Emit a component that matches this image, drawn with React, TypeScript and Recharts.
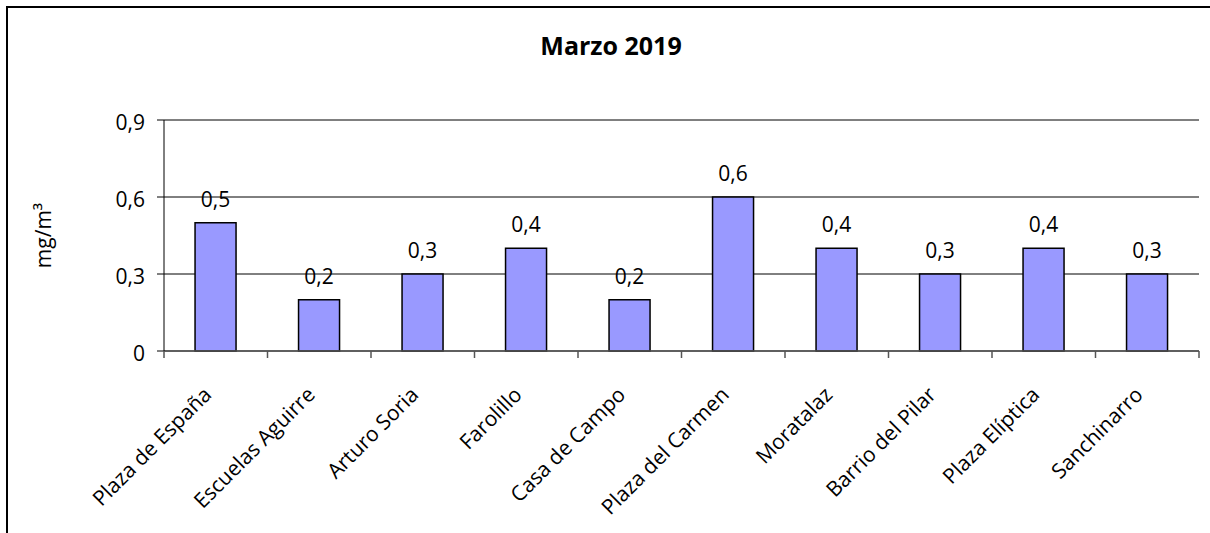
import React from 'react'
import { BarChart, Bar, XAxis, YAxis, CartesianGrid, LabelList } from 'recharts'

const stations = [
  'Plaza de España',
  'Escuelas Aguirre',
  'Arturo Soria',
  'Farolillo',
  'Casa de Campo',
  'Plaza del Carmen',
  'Moratalaz',
  'Barrio del Pilar',
  'Plaza Elíptica',
  'Sanchinarro',
]
const values = [0.5, 0.2, 0.3, 0.4, 0.2, 0.6, 0.4, 0.3, 0.4, 0.3]
const yTicks = [0, 0.3, 0.6, 0.9]
const title = 'Marzo 2019'
const yLabel = 'mg/m³'

const FONT = '"Open Sans", "Noto Sans", sans-serif'
const FS = 21

const comma = (v: any) => String(v).replace('.', ',')

// category tick: Excel style, tick marks sit between bars, label rotated -45
const CatTick = (props: any) => {
  const { x, y, payload, index, visibleTicksCount } = props
  const half = payload?.offset ?? 51.75
  const tx = x - 3
  const ty = y + 45
  return (
    <g>
      <line x1={x - half} y1={y} x2={x - half} y2={y + 7} stroke="#555" strokeWidth={1.5} />
      {index === visibleTicksCount - 1 && (
        <line x1={x + half} y1={y} x2={x + half} y2={y + 7} stroke="#555" strokeWidth={1.5} />
      )}
      <text
        x={tx}
        y={ty}
        transform={`rotate(-45, ${tx}, ${ty})`}
        textAnchor="end"
        fontSize={FS}
        fontFamily={FONT}
        fill="#000"
      >
        {payload.value}
      </text>
    </g>
  )
}

export default function App() {
  const data = stations.map((name, i) => ({ name, value: values[i] }))

  return (
    <div style={{ position: 'fixed', left: 0, top: 0, width: 1210, height: 533, overflow: 'hidden', background: '#fff' }}>
      <div
        style={{
          position: 'absolute',
          left: 6,
          top: 6,
          width: 1300,
          height: 600,
          borderTop: '2px solid #000',
          borderLeft: '2px solid #000',
        }}
      />
      <svg width={1210} height={533} style={{ position: 'absolute', left: 0, top: 0, pointerEvents: 'none' }}>
        <text x={611} y={55} textAnchor="middle" fontFamily={FONT} fontWeight="bold" fontSize={25} fill="#000">
          {title}
        </text>
      </svg>
      <div style={{ position: 'absolute', left: 0, top: 0 }}>
        <BarChart
          width={1210}
          height={533}
          data={data}
          margin={{ top: 120, right: 11, left: 0, bottom: 32 }}
          barCategoryGap="30%"
          style={{ fontFamily: FONT }}
        >
          <CartesianGrid vertical={false} stroke="#000" />
          <XAxis
            dataKey="name"
            interval={0}
            height={150}
            tickSize={0}
            tickMargin={0}
            tickLine={false}
            axisLine={{ stroke: '#555', strokeWidth: 1.5 }}
            tick={<CatTick />}
          />
          <YAxis
            type="number"
            domain={[0, 0.9]}
            ticks={yTicks}
            width={164}
            tickSize={7}
            tickMargin={12}
            tickFormatter={comma}
            tick={{ fontSize: FS, fill: '#000', dy: 3 }}
            axisLine={{ stroke: '#000' }}
            tickLine={{ stroke: '#000' }}
            label={{ value: yLabel, angle: -90, position: 'center', dx: -38, fontSize: FS, fill: '#000' }}
          />
          <YAxis
            yAxisId="r"
            orientation="right"
            width={0}
            tick={false}
            tickLine={false}
            axisLine={{ stroke: '#888' }}
          />
          <Bar dataKey="value" fill="#9999FF" stroke="#000" strokeWidth={1.5} isAnimationActive={false}>
            <LabelList dataKey="value" position="top" offset={16} formatter={comma} fontSize={FS} fill="#000" />
          </Bar>
        </BarChart>
      </div>
    </div>
  )
}
